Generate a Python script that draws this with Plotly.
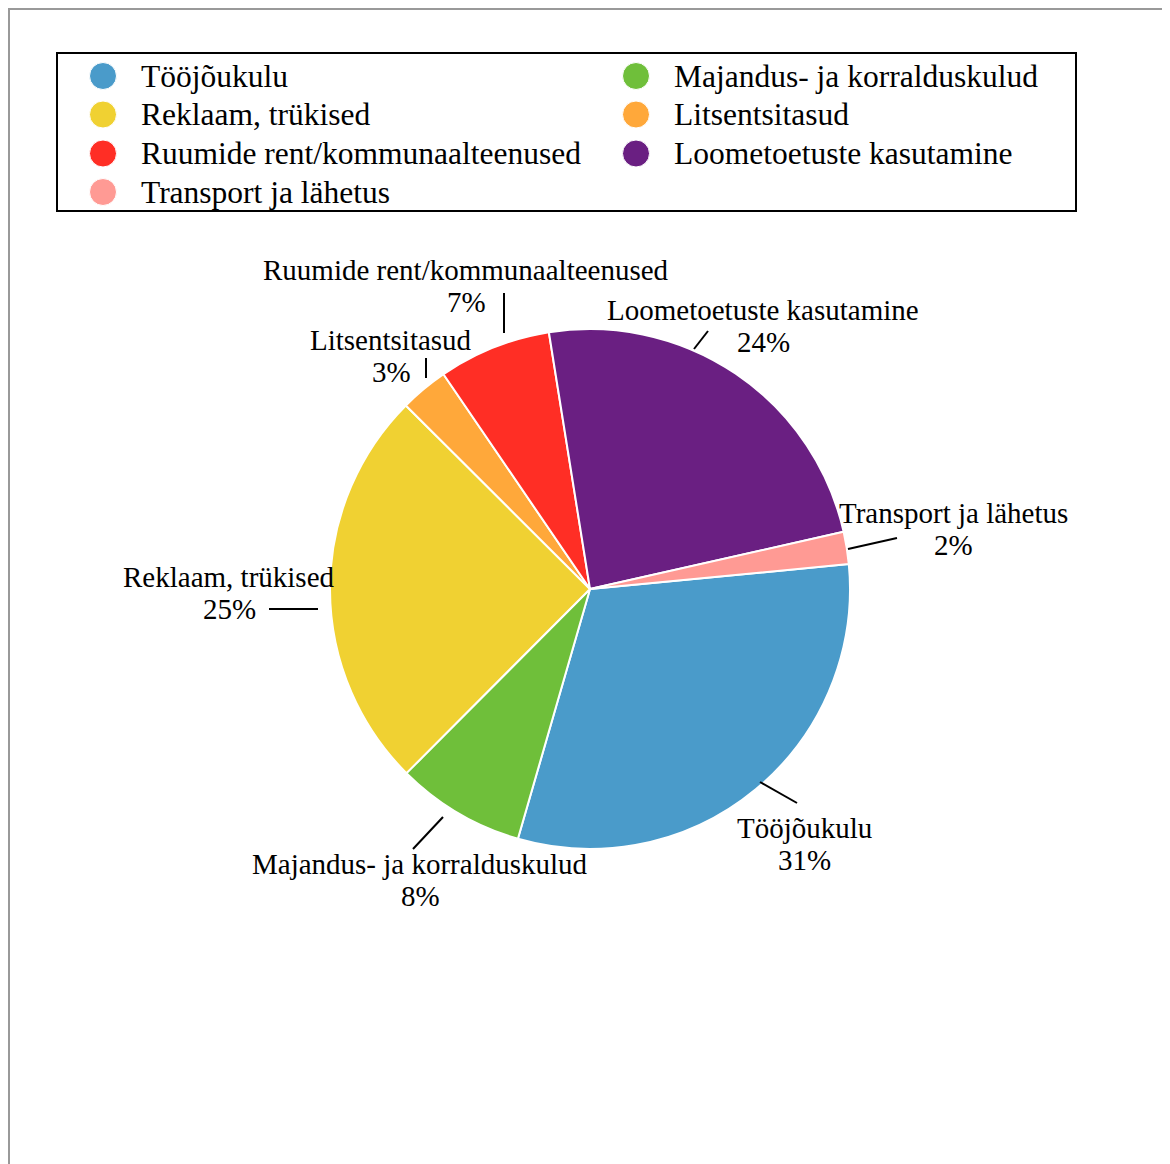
import plotly.graph_objects as go

# ---- data ----
categories = ["Tööjõukulu", "Majandus- ja korralduskulud", "Reklaam, trükised",
              "Litsentsitasud", "Ruumide rent/kommunaalteenused",
              "Loometoetuste kasutamine", "Transport ja lähetus"]
values = [31, 8, 25, 3, 7, 24, 2]
colors = ["#4A9BCA", "#6FBF3A", "#F0D132", "#FFA83A", "#FF2E25", "#6A1F82", "#FF9A94"]

# ---- layout helpers (page pixels -> paper) ----
W, H = 1162, 1156
OFF = 8
def X(px):
    return (px - OFF) / W
def Y(py):
    return 1 - (py - OFF) / H

FONT = "Liberation Serif, Times New Roman, serif"
LABEL_SIZE = 29
LEGEND_SIZE = 31.5

# label block centres and leader lines (page px), per category
label_pos = {
    "Tööjõukulu": (805, 844, (760, 782), (797, 803)),
    "Majandus- ja korralduskulud": (420, 880, (443, 817), (413, 849)),
    "Reklaam, trükised": (229, 593, (318, 609), (269, 609)),
    "Litsentsitasud": (391, 356, (426, 378), (426, 358)),
    "Ruumide rent/kommunaalteenused": (466, 286, (504, 333), (504, 293)),
    "Loometoetuste kasutamine": (763, 326, (694, 349), (708, 331)),
    "Transport ja lähetus": (953, 529, (848, 549), (897, 538)),
}

fig = go.Figure()
fig.add_trace(go.Pie(
    labels=categories, values=values, sort=False, direction="clockwise",
    rotation=84.5, textinfo="none", hoverinfo="label+percent",
    marker=dict(colors=colors, line=dict(color="white", width=2)),
    domain=dict(x=[X(330), X(850)], y=[Y(849), Y(329)]),
    showlegend=False,
))

total = sum(values)
annotations = []
shapes = []
for cat, v in zip(categories, values):
    cx, cy, p0, p1 = label_pos[cat]
    pct = round(100 * v / total)
    annotations.append(dict(x=X(cx), y=Y(cy - 16), xref="paper", yref="paper",
                            text=cat, showarrow=False, xanchor="center", yanchor="middle",
                            font=dict(family=FONT, size=LABEL_SIZE, color="black")))
    annotations.append(dict(x=X(cx), y=Y(cy + 16), xref="paper", yref="paper",
                            text=f"{pct}%", showarrow=False, xanchor="center", yanchor="middle",
                            font=dict(family=FONT, size=LABEL_SIZE, color="black")))
    shapes.append(dict(type="line", xref="paper", yref="paper",
                       x0=X(p0[0]), y0=Y(p0[1]), x1=X(p1[0]), y1=Y(p1[1]),
                       line=dict(color="black", width=2)))

# manual legend (two columns, row-major)
shapes.append(dict(type="rect", xref="paper", yref="paper",
                   x0=X(57), y0=Y(211), x1=X(1076), y1=Y(53),
                   line=dict(color="black", width=2), fillcolor="rgba(0,0,0,0)"))
col_x = [103, 636]
row_y = [76, 114.5, 153.5, 192]
R = 13.5
for i, (cat, col) in enumerate(zip(categories, colors)):
    mx = col_x[i % 2]
    my = row_y[i // 2]
    shapes.append(dict(type="circle", xref="paper", yref="paper",
                       x0=X(mx - R), x1=X(mx + R), y0=Y(my + R), y1=Y(my - R),
                       fillcolor=col, line=dict(color="white", width=1)))
    annotations.append(dict(x=X(mx + 36), y=Y(my), xref="paper", yref="paper",
                            text=cat, showarrow=False, xanchor="left", yanchor="middle",
                            font=dict(family=FONT, size=LEGEND_SIZE, color="black")))

# page frame lines (top and left)
shapes.append(dict(type="line", xref="paper", yref="paper", x0=0, x1=1, y0=Y(9), y1=Y(9),
                   line=dict(color="#999999", width=2)))
shapes.append(dict(type="line", xref="paper", yref="paper", x0=X(9), x1=X(9), y0=0, y1=1,
                   line=dict(color="#999999", width=2)))

fig.update_layout(
    width=W, height=H, margin=dict(l=0, r=0, t=0, b=0),
    paper_bgcolor="white", plot_bgcolor="white",
    showlegend=False, annotations=annotations, shapes=shapes,
    font=dict(family=FONT),
)

fig.write_html("out.html")
